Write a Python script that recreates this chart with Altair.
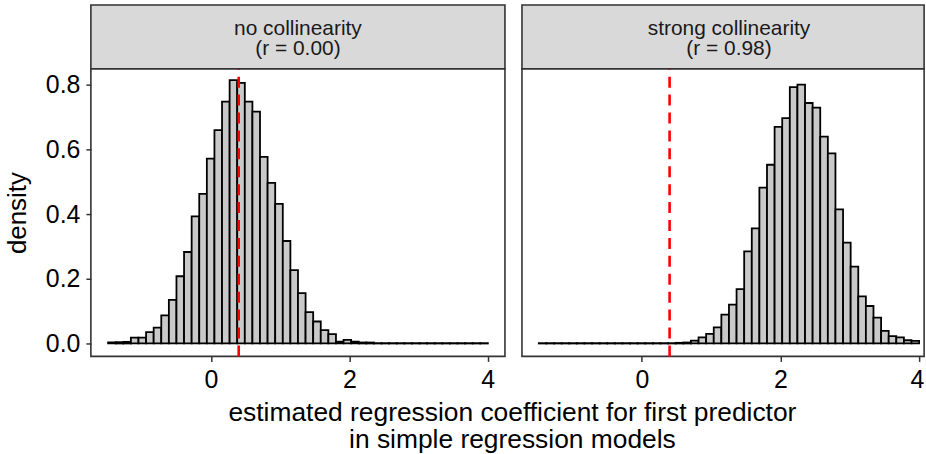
import altair as alt
import pandas as pd

# ---- data ----
panel_names = ["no collinearity", "strong collinearity"]
panel_r = ["(r = 0.00)", "(r = 0.98)"]

bin_start = -1.488
bin_width = 0.1098
true_coef = 0.4

density_no = [0.003, 0.004, 0.005, 0.018, 0.018, 0.035, 0.049, 0.087, 0.135, 0.208,
              0.283, 0.393, 0.463, 0.572, 0.660, 0.748, 0.815, 0.806, 0.748, 0.717,
              0.577, 0.497, 0.432, 0.317, 0.227, 0.156, 0.097, 0.068, 0.041, 0.029,
              0.006, 0.011, 0.006, 0.003, 0.003, 0.001, 0.001, 0.001, 0.001, 0.001,
              0.001, 0.001, 0.001, 0.001, 0.001, 0.001, 0.001, 0.001, 0.001, 0.001]

density_strong = [0.001, 0.001, 0.001, 0.001, 0.001, 0.001, 0.001, 0.001, 0.001, 0.001,
                  0.001, 0.001, 0.001, 0.001, 0.001, 0.001, 0.001, 0.001, 0.002, 0.003,
                  0.009, 0.019, 0.030, 0.050, 0.089, 0.120, 0.168, 0.285, 0.356, 0.482,
                  0.553, 0.670, 0.697, 0.793, 0.801, 0.744, 0.730, 0.640, 0.588, 0.415,
                  0.312, 0.238, 0.146, 0.116, 0.080, 0.039, 0.023, 0.019, 0.010, 0.008]

x_ticks = [0, 2, 4]
y_ticks = [0.0, 0.2, 0.4, 0.6, 0.8]
x_domain_left = [-1.737, 4.249]
x_domain_right = [-1.731, 4.074]
y_domain = [-0.04, 0.85]

x_title = ["estimated regression coefficient for first predictor",
           "in simple regression models"]
y_title = "density"

# ---- styling ----
FONT = "Liberation Sans"
H = 289
SH = 64


def make_panel(density, name, rlabel, first, width, x_domain):
    n = len(density)
    df = pd.DataFrame({
        "x": [bin_start + i * bin_width for i in range(n)],
        "x2": [bin_start + (i + 1) * bin_width for i in range(n)],
        "density": density,
        "zero": [0.0] * n,
    })
    if first:
        yaxis = alt.Axis(values=y_ticks, title=y_title, format=".1f", titlePadding=15.2)
        xaxis = alt.Axis(values=x_ticks, title=None, format="d")
    else:
        yaxis = None
        xaxis = alt.Axis(values=x_ticks, title=None, format="d",
                         labelFlush=10, labelFlushOffset=5)

    xs = alt.Scale(domain=x_domain, nice=False, zero=False)
    ys = alt.Scale(domain=y_domain, nice=False, zero=False)

    bars = alt.Chart(df).mark_rect(fill="#C9C9C9", stroke="black", strokeWidth=1.8).encode(
        x=alt.X("x:Q", scale=xs, axis=xaxis),
        x2="x2:Q",
        y=alt.Y("density:Q", scale=ys, axis=yaxis),
        y2="zero:Q",
    )
    rule = alt.Chart(pd.DataFrame({"coef": [true_coef]})).mark_rule(
        color="#FF0000", strokeWidth=2.6, strokeDash=[11, 7]
    ).encode(
        x="coef:Q",
        y=alt.value(H),
        y2=alt.value(0),
    )

    sdf = pd.DataFrame({"name": [name], "r": [rlabel]})
    bg = alt.Chart(sdf).mark_rect(fill="#D9D9D9", stroke="#333333", strokeWidth=1.6).encode(
        x=alt.value(0), x2=alt.value(width), y=alt.value(-SH), y2=alt.value(0)
    )
    t1 = alt.Chart(sdf).mark_text(font=FONT, fontSize=21, color="#1A1A1A",
                                  baseline="alphabetic", align="center").encode(
        x=alt.value(208), y=alt.value(-SH + 29.7), text="name:N"
    )
    t2 = alt.Chart(sdf).mark_text(font=FONT, fontSize=21, color="#1A1A1A",
                                  baseline="alphabetic", align="center").encode(
        x=alt.value(208), y=alt.value(-SH + 50.7), text="r:N"
    )
    return alt.layer(bars, rule, bg, t1, t2).properties(width=width, height=H)


left = make_panel(density_no, panel_names[0], panel_r[0], True, 416, x_domain_left)
right = make_panel(density_strong, panel_names[1], panel_r[1], False, 404, x_domain_right)

chart = alt.hconcat(left, right, spacing=13.1).properties(
    padding={"left": 3.3, "top": 2, "right": 0, "bottom": 0},
    title=alt.TitleParams(
        text=x_title, orient="bottom", anchor="middle", font=FONT, fontSize=26.5,
        fontWeight="normal", color="black", lineHeight=26.8, baseline="alphabetic",
        offset=28.2, dx=48,
    ),
).configure_view(
    stroke="#333333", strokeWidth=1.6
).configure_axis(
    labelFont=FONT, labelFontSize=25, labelColor="black",
    titleFont=FONT, titleFontSize=26, titleColor="black", titleFontWeight="normal",
    tickColor="#333333", tickWidth=1.5, tickSize=5, labelPadding=6,
    domain=False, grid=False,
)

chart.save("out.html", embed_options={"renderer": "svg", "actions": False})
